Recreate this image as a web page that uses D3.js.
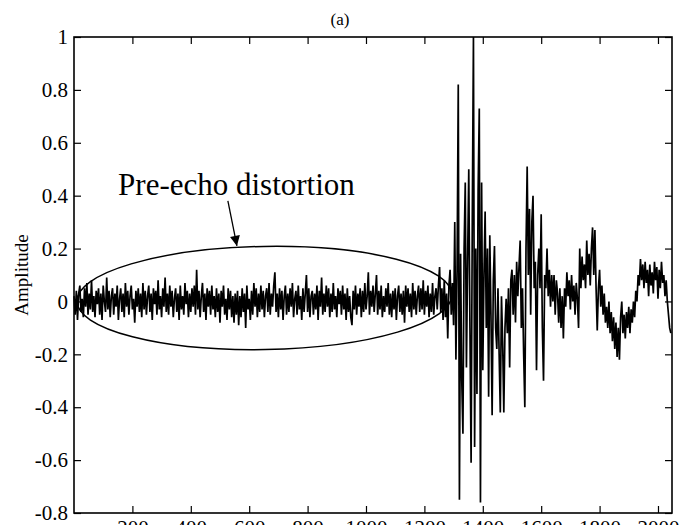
<!DOCTYPE html>
<html>
<head>
<meta charset="utf-8">
<script src="https://cdn.jsdelivr.net/npm/d3@7"></script>
<style>
  body { margin: 0; background: #fff; }
  text { font-family: "Liberation Serif", "Times New Roman", serif; fill: #000; }
</style>
</head>
<body>
<script>
// samples are plotted every 4th point of the 2048-point frame
const sampleStep = 4;

// quiet part before the attack (pre-echo noise)
const preEcho = [
  0.02,-0.05,0.04,-0.07,0.03,0.06,-0.04,0.01,-0.06,0.05,-0.02,0.07,-0.05,0.03,-0.03,0.08,-0.04,0.02,-0.06,0.04,
  -0.01,0.05,-0.05,0.03,-0.07,0.06,0.00,-0.04,0.09,-0.03,0.04,-0.06,0.02,0.05,-0.05,0.03,-0.02,0.06,-0.07,0.01,
  0.05,-0.04,0.03,-0.06,0.07,-0.02,0.04,-0.05,0.02,0.06,-0.03,0.01,-0.08,0.04,-0.02,0.05,-0.04,0.03,-0.06,0.07,
  -0.03,0.04,-0.05,0.02,0.06,-0.04,0.03,-0.07,0.05,-0.01,0.04,-0.05,0.08,-0.03,0.02,-0.06,0.05,-0.02,0.09,-0.04,
  0.03,-0.05,0.06,-0.02,0.04,-0.06,0.01,0.05,-0.04,0.03,-0.07,0.06,-0.03,0.02,-0.05,0.07,-0.01,0.04,-0.06,0.03,
  -0.04,0.05,-0.02,0.06,-0.05,0.12,-0.03,0.04,-0.06,0.02,0.07,-0.04,0.03,-0.07,0.05,-0.02,0.04,-0.05,0.06,-0.03,
  0.02,-0.06,0.05,-0.04,0.03,-0.08,0.04,-0.02,0.06,-0.05,0.01,-0.07,0.05,-0.03,0.04,-0.06,0.02,-0.08,0.03,-0.05,
  0.04,-0.09,0.02,-0.06,0.05,-0.04,0.03,-0.10,0.06,-0.03,0.01,-0.07,0.04,-0.05,0.07,-0.02,0.05,-0.06,0.03,-0.04,
  0.06,-0.03,0.04,-0.06,0.02,0.05,-0.04,0.07,-0.05,0.03,-0.02,0.06,0.11,-0.04,0.03,-0.06,0.05,-0.03,0.04,-0.07,
  0.02,0.06,-0.05,0.03,-0.04,0.05,-0.02,0.07,-0.06,0.01,0.04,-0.05,0.06,-0.03,0.02,-0.07,0.05,-0.04,0.03,0.10,
  -0.04,0.05,-0.06,0.02,0.04,-0.05,0.03,-0.03,0.06,-0.07,0.04,-0.02,0.09,-0.05,0.03,-0.04,0.06,-0.02,0.05,-0.06,
  0.03,-0.04,0.07,-0.03,0.02,-0.06,0.05,-0.01,0.04,-0.05,0.06,-0.03,0.03,-0.07,0.05,-0.04,0.02,-0.06,-0.09,0.04,
  -0.03,0.06,-0.05,0.03,-0.02,0.05,-0.06,0.04,-0.04,0.07,-0.03,0.02,0.11,-0.05,0.04,-0.02,0.06,-0.04,0.03,0.10,
  -0.05,0.04,-0.03,0.06,-0.06,0.02,-0.04,0.05,-0.02,0.07,-0.05,0.03,-0.06,0.04,-0.03,0.05,-0.07,0.02,0.06,-0.04,
  0.03,-0.05,0.04,-0.08,0.06,-0.02,0.05,-0.04,0.03,-0.06,0.07,-0.03,0.04,-0.05,0.02,0.06,-0.04,0.05,-0.03,0.08,
  -0.05,0.04,-0.02,0.06,-0.06,0.03,-0.04,0.07,-0.05,0.02,0.05,-0.03,0.06,0.13,-0.04,0.05,-0.07,0.08,-0.06,0.03,
  -0.14,0.06,0.12,-0.05,0.07,-0.09
];

// the transient itself
const attack = [
  0.30,-0.22,0.12,0.82,-0.75,0.18,-0.30,-0.50,0.20,0.45,
  -0.25,0.15,0.50,-0.10,-0.61,0.30,1.00,-0.55,0.20,-0.35,
  0.42,0.73,-0.76,0.45,-0.26,0.10,0.34,-0.10,0.20,-0.36,
  0.25,-0.05,-0.43,0.08,0.21,-0.10,-0.18,0.05,-0.20,-0.42,
  0.02,-0.15,-0.42,-0.10,0.01,-0.12,0.05,-0.25,0.08,0.12,
  -0.05,0.10,-0.08,0.15,0.02,0.13,0.23,-0.10,0.05,-0.20,
  -0.40,0.20,0.51,0.10,0.35,-0.05,0.30,0.40,0.05,0.15,
  -0.26,0.10,0.20,0.05,0.33,-0.10,-0.30,0.10,0.05,0.20,
  0.02,0.12,-0.02,0.10
];

// slow decay after the attack
const decay = [
  0.00,0.10,-0.05,0.08,0.03,-0.08,0.05,-0.10,0.02,-0.14,
  0.05,-0.02,0.11,0.02,0.08,-0.03,0.10,0.00,0.06,-0.05,
  0.07,0.01,-0.10,0.20,0.05,0.17,0.08,0.14,0.05,0.23,
  0.10,0.18,0.06,0.20,0.28,0.10,0.27,0.05,-0.11,0.05,
  0.12,-0.02,0.06,-0.05,0.03,-0.08,-0.02,-0.10,0.00,-0.12,
  -0.04,-0.15,-0.06,-0.18,-0.08,-0.21,-0.10,-0.22,-0.06,0.00,
  -0.12,-0.05,-0.14,-0.04,-0.10,-0.02,-0.12,-0.03,-0.08,0.00,
  -0.06,0.04,0.00,0.10,0.06,0.16,0.08,0.14,0.05,0.15,
  0.07,0.12,0.02,0.14,0.06,0.11,0.03,0.15,0.08,0.13,
  0.01,0.12,0.05,0.15,0.07,0.10,0.02,0.08,0.00,-0.05,
  -0.10,-0.12
];

const xTicks = [200, 400, 600, 800, 1000, 1200, 1400, 1600, 1800, 2000];
const yTicks = [-0.8, -0.6, -0.4, -0.2, 0, 0.2, 0.4, 0.6, 0.8, 1];

const titleText = '(a)';
const yLabel = 'Amplitude';
const noteText = 'Pre-echo distortion';

const width = 695, height = 525;
const margin = {top: 37, right: 23, bottom: 12, left: 74};
const plotW = width - margin.left - margin.right;
const plotH = height - margin.top - margin.bottom;

const signal = preEcho.concat(attack, decay).map((v, i) => ({n: i * sampleStep, v: v}));

const x = d3.scaleLinear().domain([0, 2048]).range([0, plotW]);
const y = d3.scaleLinear().domain([-0.8, 1]).range([plotH, 0]);

const svg = d3.select('body').append('svg')
  .attr('width', width)
  .attr('height', height);

const g = svg.append('g')
  .attr('transform', `translate(${margin.left},${margin.top})`);

// matlab style labels: plain hyphen, no trailing zeros
const fmt = d => (Math.abs(d) < 1e-9 ? '0' : String(+d.toFixed(1)));

// signal (scanned print is heavy, so a thicker stroke)
g.append('path')
  .datum(signal)
  .attr('fill', 'none')
  .attr('stroke', '#000')
  .attr('stroke-width', 1.7)
  .attr('d', d3.line().x(d => x(d.n)).y(d => y(d.v)));

// axes, ticks pointing inward
g.append('g')
  .attr('transform', `translate(0,${plotH})`)
  .call(d3.axisBottom(x).tickValues(xTicks).tickSize(-7).tickSizeOuter(0).tickPadding(7).tickFormat(fmt));
g.append('g')
  .call(d3.axisLeft(y).tickValues(yTicks).tickSize(-7).tickSizeOuter(0).tickPadding(6).tickFormat(fmt));
g.append('g')
  .call(d3.axisTop(x).tickValues(xTicks).tickSize(-7).tickSizeOuter(0).tickFormat(''));
g.append('g')
  .attr('transform', `translate(${plotW},0)`)
  .call(d3.axisRight(y).tickValues(yTicks).tickSize(-7).tickSizeOuter(0).tickFormat(''));

g.selectAll('.domain').remove();
g.selectAll('.tick line').attr('stroke', '#000').attr('stroke-width', 1.2);
g.selectAll('.tick text')
  .style('font-family', '"Liberation Serif", serif')
  .style('font-size', '21px')
  .attr('fill', '#000');

// frame
g.append('rect')
  .attr('width', plotW).attr('height', plotH)
  .attr('fill', 'none')
  .attr('stroke', '#000')
  .attr('stroke-width', 1.6);

// title and y label
svg.append('text')
  .attr('x', 340)
  .attr('y', 25)
  .attr('text-anchor', 'middle')
  .style('font-size', '17px')
  .text(titleText);

svg.append('text')
  .attr('transform', `translate(28,${margin.top + plotH / 2}) rotate(-90)`)
  .attr('text-anchor', 'middle')
  .style('font-size', '19px')
  .text(yLabel);

// annotation: ellipse round the pre-echo, arrow and label
svg.append('defs').append('marker')
  .attr('id', 'head')
  .attr('viewBox', '0 0 10 10')
  .attr('refX', 10).attr('refY', 5)
  .attr('markerWidth', 11).attr('markerHeight', 10)
  .attr('markerUnits', 'userSpaceOnUse')
  .attr('orient', 'auto')
  .append('path')
  .attr('d', 'M0,0L10,5L0,10Z')
  .attr('fill', '#000');

const ell = {n: 652, v: 0.013, rn: 642, rv: 0.195};
g.append('ellipse')
  .attr('cx', x(ell.n)).attr('cy', y(ell.v))
  .attr('rx', x(ell.rn) - x(0)).attr('ry', y(0) - y(ell.rv))
  .attr('transform', `rotate(-1,${x(ell.n)},${y(ell.v)})`)
  .attr('fill', 'none')
  .attr('stroke', '#000')
  .attr('stroke-width', 1.5);

g.append('line')
  .attr('x1', x(527)).attr('y1', y(0.38))
  .attr('x2', x(558)).attr('y2', y(0.21))
  .attr('stroke', '#000')
  .attr('stroke-width', 1.3)
  .attr('marker-end', 'url(#head)');

g.append('text')
  .attr('x', x(151)).attr('y', y(0.403))
  .style('font-size', '31px')
  .text(noteText);
</script>
</body>
</html>
